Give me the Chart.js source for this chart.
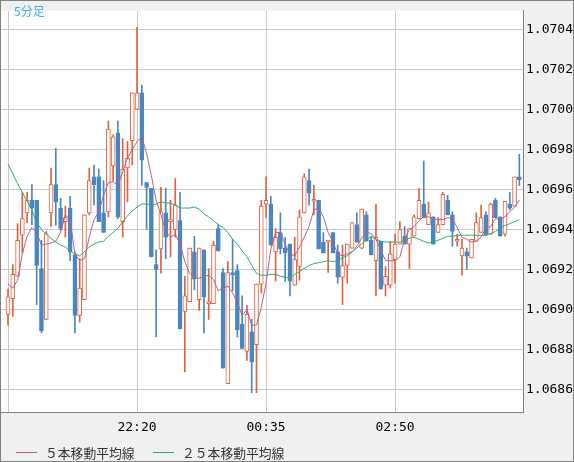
<!DOCTYPE html>
<html>
<head>
<meta charset="utf-8">
<script src="https://cdn.jsdelivr.net/npm/chart.js@4.4.1/dist/chart.umd.min.js"></script>
<style>
html, body { margin: 0; padding: 0; background: #f0f0f0; }
canvas { display: block; }
</style>
</head>
<body>
<canvas id="chart" width="574" height="462"></canvas>
<script>
/* DATA — 5分足, 108本 */

const opens = [
    1.068976, 1.069054, 1.069166, 1.069371, 1.069483, 1.069546, 1.069546, 1.069205, 1.068951, 1.069483,
    1.069624, 1.069507, 1.069439, 1.069507, 1.069273, 1.068971, 1.069049, 1.069483, 1.069663, 1.069663,
    1.069483, 1.069488, 1.069717, 1.069883, 1.069439, 1.069707, 1.069844, 1.070000, 1.070083, 1.069634,
    1.069605, 1.069224, 1.069303, 1.069483, 1.069439, 1.069400, 1.069444, 1.068990, 1.069039, 1.069288,
    1.069049, 1.069298, 1.069029, 1.069029, 1.069405, 1.069185, 1.068629, 1.069185, 1.069195, 1.068927,
    1.068790, 1.068888, 1.068824, 1.069127, 1.069527, 1.069527, 1.069288, 1.069385, 1.069307, 1.069327,
    1.069122, 1.069215, 1.069483, 1.069644, 1.069541, 1.069546, 1.069337, 1.069337, 1.069385, 1.069288,
    1.069161, 1.069220, 1.069307, 1.069424, 1.069307, 1.069473, 1.069346, 1.069244, 1.069341, 1.069122,
    1.069122, 1.069249, 1.069327, 1.069366, 1.069327, 1.069366, 1.069454, 1.069527, 1.069424, 1.069463,
    1.069385, 1.069424, 1.069546, 1.069473, 1.069341, 1.069268, 1.069288, 1.069258, 1.069341, 1.069385,
    1.069473, 1.069376, 1.069546, 1.069463, 1.069376, 1.069527, 1.069517, 1.069663
]

const highs = [
    1.069102, 1.069224, 1.069429, 1.069585, 1.069585, 1.069624, 1.069546, 1.069346, 1.069390, 1.069707,
    1.069805, 1.069556, 1.069517, 1.069566, 1.069288, 1.069254, 1.069473, 1.069707, 1.069722, 1.069702,
    1.069644, 1.069942, 1.069873, 1.069942, 1.069854, 1.069839, 1.070083, 1.070410, 1.070122, 1.069634,
    1.069605, 1.069298, 1.069610, 1.069605, 1.069546, 1.069654, 1.069585, 1.069166, 1.069307, 1.069366,
    1.069307, 1.069298, 1.069205, 1.069341, 1.069424, 1.069205, 1.069239, 1.069351, 1.069224, 1.069068,
    1.069020, 1.068951, 1.069127, 1.069546, 1.069663, 1.069566, 1.069405, 1.069483, 1.069361, 1.069327,
    1.069361, 1.069498, 1.069678, 1.069702, 1.069620, 1.069546, 1.069385, 1.069346, 1.069385, 1.069322,
    1.069322, 1.069327, 1.069434, 1.069483, 1.069502, 1.069488, 1.069361, 1.069527, 1.069341, 1.069215,
    1.069341, 1.069376, 1.069439, 1.069415, 1.069405, 1.069473, 1.069605, 1.069742, 1.069537, 1.069463,
    1.069459, 1.069585, 1.069571, 1.069488, 1.069376, 1.069351, 1.069307, 1.069351, 1.069483, 1.069522,
    1.069488, 1.069532, 1.069556, 1.069463, 1.069541, 1.069585, 1.069663, 1.069776
]

const lows = [
    1.068922, 1.068966, 1.069166, 1.069283, 1.069434, 1.069424, 1.069024, 1.068883, 1.068951, 1.069415,
    1.069420, 1.069395, 1.069361, 1.069244, 1.068883, 1.068937, 1.069049, 1.069473, 1.069522, 1.069439,
    1.069385, 1.069463, 1.069644, 1.069454, 1.069361, 1.069537, 1.069722, 1.070000, 1.069620, 1.069400,
    1.069263, 1.068863, 1.069181, 1.069254, 1.069263, 1.069361, 1.068903, 1.068688, 1.069039, 1.069098,
    1.068995, 1.068883, 1.068951, 1.069029, 1.069293, 1.068707, 1.068629, 1.069093, 1.068863, 1.068805,
    1.068746, 1.068585, 1.068585, 1.069083, 1.069459, 1.069322, 1.069142, 1.069278, 1.069142, 1.069068,
    1.069122, 1.069146, 1.069483, 1.069522, 1.069473, 1.069303, 1.069283, 1.069185, 1.069283, 1.069132,
    1.069024, 1.069132, 1.069307, 1.069337, 1.069303, 1.069341, 1.069273, 1.069068, 1.069102, 1.069068,
    1.069107, 1.069132, 1.069327, 1.069327, 1.069205, 1.069366, 1.069454, 1.069459, 1.069424, 1.069327,
    1.069385, 1.069424, 1.069473, 1.069317, 1.069317, 1.069171, 1.069200, 1.069258, 1.069341, 1.069385,
    1.069371, 1.069376, 1.069459, 1.069366, 1.069366, 1.069498, 1.069517, 1.069620
]

const closes = [
    1.069063, 1.069176, 1.069346, 1.069454, 1.069546, 1.069507, 1.069220, 1.068893, 1.069380, 1.069624,
    1.069537, 1.069405, 1.069459, 1.069288, 1.068971, 1.069107, 1.069473, 1.069644, 1.069624, 1.069439,
    1.069385, 1.069902, 1.069863, 1.069463, 1.069702, 1.069756, 1.070083, 1.070083, 1.069746, 1.069610,
    1.069263, 1.069200, 1.069488, 1.069361, 1.069444, 1.069522, 1.068903, 1.069068, 1.069307, 1.069151,
    1.069307, 1.069063, 1.069039, 1.069322, 1.069293, 1.068707, 1.069185, 1.069171, 1.068898, 1.068805,
    1.068976, 1.068737, 1.069127, 1.069517, 1.069546, 1.069322, 1.069361, 1.069303, 1.069283, 1.069142,
    1.069249, 1.069463, 1.069663, 1.069581, 1.069546, 1.069303, 1.069283, 1.069346, 1.069283, 1.069161,
    1.069220, 1.069327, 1.069434, 1.069337, 1.069502, 1.069341, 1.069273, 1.069361, 1.069102, 1.069166,
    1.069278, 1.069327, 1.069400, 1.069327, 1.069405, 1.069463, 1.069546, 1.069459, 1.069483, 1.069327,
    1.069424, 1.069576, 1.069473, 1.069390, 1.069346, 1.069307, 1.069268, 1.069351, 1.069434, 1.069459,
    1.069371, 1.069527, 1.069459, 1.069366, 1.069541, 1.069507, 1.069663, 1.069649
]

// 移動平均線
const ma5 = [
    1.069127, 1.069107, 1.069146, 1.069278, 1.069366, 1.069410, 1.069385, 1.069322, 1.069327, 1.069332,
    1.069341, 1.069385, 1.069473, 1.069449, 1.069278, 1.069244, 1.069254, 1.069361, 1.069449, 1.069488,
    1.069571, 1.069634, 1.069639, 1.069620, 1.069688, 1.069756, 1.069800, 1.069839, 1.069863, 1.069780,
    1.069668, 1.069546, 1.069473, 1.069390, 1.069361, 1.069376, 1.069327, 1.069239, 1.069181, 1.069161,
    1.069156, 1.069166, 1.069171, 1.069151, 1.069093, 1.069107, 1.069117, 1.069083, 1.069034, 1.068971,
    1.069000, 1.068922, 1.068922, 1.069010, 1.069132, 1.069302, 1.069385, 1.069385, 1.069327, 1.069278,
    1.069268, 1.069312, 1.069361, 1.069415, 1.069498, 1.069507, 1.069463, 1.069385, 1.069337, 1.069278,
    1.069268, 1.069278, 1.069288, 1.069317, 1.069356, 1.069385, 1.069380, 1.069351, 1.069298, 1.069244,
    1.069244, 1.069244, 1.069263, 1.069351, 1.069400, 1.069415, 1.069444, 1.069463, 1.069463, 1.069454,
    1.069449, 1.069449, 1.069459, 1.069454, 1.069410, 1.069361, 1.069351, 1.069337, 1.069341, 1.069361,
    1.069405, 1.069415, 1.069454, 1.069449, 1.069463, 1.069488, 1.069512, 1.069546
]

const ma25 = [
    1.069727, 1.069678, 1.069629, 1.069585, 1.069541, 1.069498, 1.069434, 1.069400, 1.069376, 1.069356,
    1.069337, 1.069322, 1.069312, 1.069293, 1.069278, 1.069268, 1.069288, 1.069312, 1.069327, 1.069337,
    1.069341, 1.069366, 1.069385, 1.069405, 1.069439, 1.069468, 1.069493, 1.069512, 1.069527, 1.069527,
    1.069522, 1.069527, 1.069537, 1.069532, 1.069532, 1.069522, 1.069507, 1.069507, 1.069507, 1.069512,
    1.069502, 1.069478, 1.069463, 1.069444, 1.069424, 1.069410, 1.069385, 1.069351, 1.069327, 1.069293,
    1.069263, 1.069220, 1.069181, 1.069171, 1.069171, 1.069176, 1.069176, 1.069166, 1.069161, 1.069156,
    1.069176, 1.069190, 1.069205, 1.069220, 1.069229, 1.069234, 1.069239, 1.069244, 1.069239, 1.069244,
    1.069259, 1.069268, 1.069288, 1.069307, 1.069327, 1.069346, 1.069366, 1.069351, 1.069341, 1.069337,
    1.069337, 1.069337, 1.069337, 1.069346, 1.069356, 1.069361, 1.069351, 1.069341, 1.069332, 1.069337,
    1.069346, 1.069356, 1.069366, 1.069366, 1.069371, 1.069371, 1.069371, 1.069371, 1.069371, 1.069371,
    1.069371, 1.069380, 1.069390, 1.069405, 1.069420, 1.069429, 1.069439, 1.069449
]

const xTickIdx = [0, 27, 54, 81]
const xTickLabels = ['', '22:20', '00:35', '02:50']
const yTicks = [1.0686, 1.0688, 1.0690, 1.0692, 1.0694, 1.0696, 1.0698, 1.0700, 1.0702, 1.0704]

/* STYLE */

const RED = '#e0623e'
const BLUE = '#4a86c0'
const MA5_COLOR = '#b5608f'
const MA25_COLOR = '#29ad74'
const GRID = '#c8c8c8'
const FRAME = '#808080'
const MONO = '"DejaVu Sans Mono", monospace'
const JP = '"Noto Sans CJK JP", sans-serif'

const isUp = (i) => closes[i] >= opens[i]

const chartFrame = {
    id: 'chartFrame',
    beforeDraw(chart) {
        const { ctx, chartArea: a } = chart
        ctx.save()
        ctx.fillStyle = '#f0f0f0'
        ctx.fillRect(0, 0, chart.width, chart.height)
        ctx.fillStyle = '#fff'
        ctx.fillRect(a.left, a.top, a.right - a.left, a.bottom - a.top)
        ctx.restore()
    },
    afterDraw(chart) {
        const { ctx } = chart
        ctx.save()
        ctx.strokeStyle = FRAME
        ctx.lineWidth = 1
        ctx.strokeRect(0.5, 0.5, chart.width - 1, chart.height - 1)

        ctx.fillStyle = '#3fb0e6'
        ctx.font = '12px ' + JP
        ctx.textBaseline = 'middle'
        ctx.fillText('5分足', 14, 11)

        // legend
        const items = [
            { text: '５本移動平均線', color: MA5_COLOR, x: 16 },
            { text: '２５本移動平均線', color: MA25_COLOR, x: 153 }
        ]
        ctx.font = '12.8px ' + JP
        items.forEach((it) => {
            ctx.strokeStyle = it.color
            ctx.beginPath()
            ctx.moveTo(it.x, 452.5)
            ctx.lineTo(it.x + 21, 452.5)
            ctx.stroke()
            ctx.fillStyle = '#333'
            ctx.fillText(it.text, it.x + 29, 453)
        })
        ctx.restore()
    }
}

new Chart(document.getElementById('chart'), {
    type: 'bar',
    data: {
        datasets: [
            {
                type: 'line',
                label: '５本移動平均線',
                data: ma5.map((v, i) => ({ x: i, y: v })),
                borderColor: MA5_COLOR,
                borderWidth: 1,
                pointRadius: 0,
                tension: 0,
                order: 0
            },
            {
                type: 'line',
                label: '２５本移動平均線',
                data: ma25.map((v, i) => ({ x: i, y: v })),
                borderColor: MA25_COLOR,
                borderWidth: 1,
                pointRadius: 0,
                tension: 0,
                order: 0
            },
            {
                label: 'body',
                data: opens.map((o, i) => ({ x: i, y: [o, closes[i]] })),
                backgroundColor: (c) => isUp(c.dataIndex) ? '#fff' : BLUE,
                borderColor: (c) => isUp(c.dataIndex) ? RED : BLUE,
                borderWidth: 1,
                borderSkipped: false,
                barThickness: 4,
                minBarLength: 2,
                grouped: false,
                order: 1
            },
            {
                label: 'wick',
                data: lows.map((l, i) => ({ x: i, y: [l, highs[i]] })),
                backgroundColor: (c) => isUp(c.dataIndex) ? RED : BLUE,
                borderWidth: 0,
                barThickness: 1,
                grouped: false,
                order: 2
            }
        ]
    },
    options: {
        responsive: false,
        devicePixelRatio: 1,
        animation: false,
        events: [],
        layout: { padding: { left: 1, top: 1, right: 0, bottom: 28 } },
        plugins: {
            legend: { display: false },
            tooltip: { enabled: false }
        },
        scales: {
            x: {
                type: 'linear',
                min: -1.465,
                max: 107.77,
                offset: false,
                afterBuildTicks: (s) => { s.ticks = xTickIdx.map((v) => ({ value: v })) },
                afterFit: (s) => { s.height = 22 },
                grid: { color: GRID, drawTicks: false, offset: false },
                border: { color: FRAME },
                ticks: {
                    autoSkip: false,
                    maxRotation: 0,
                    padding: 8,
                    color: '#000',
                    font: { family: MONO, size: 13 },
                    callback: (v, i) => xTickLabels[i]
                }
            },
            y: {
                position: 'right',
                min: 1.0684878,
                max: 1.0704927,
                afterBuildTicks: (s) => { s.ticks = yTicks.map((v) => ({ value: v })) },
                afterFit: (s) => { s.width = 51 },
                grid: { color: GRID, drawTicks: false },
                border: { color: FRAME },
                ticks: {
                    autoSkip: false,
                    padding: 3,
                    color: '#000',
                    font: { family: MONO, size: 13 },
                    callback: (v) => Number(v).toFixed(4)
                }
            }
        }
    },
    plugins: [chartFrame]
})
</script>
</body>
</html>
